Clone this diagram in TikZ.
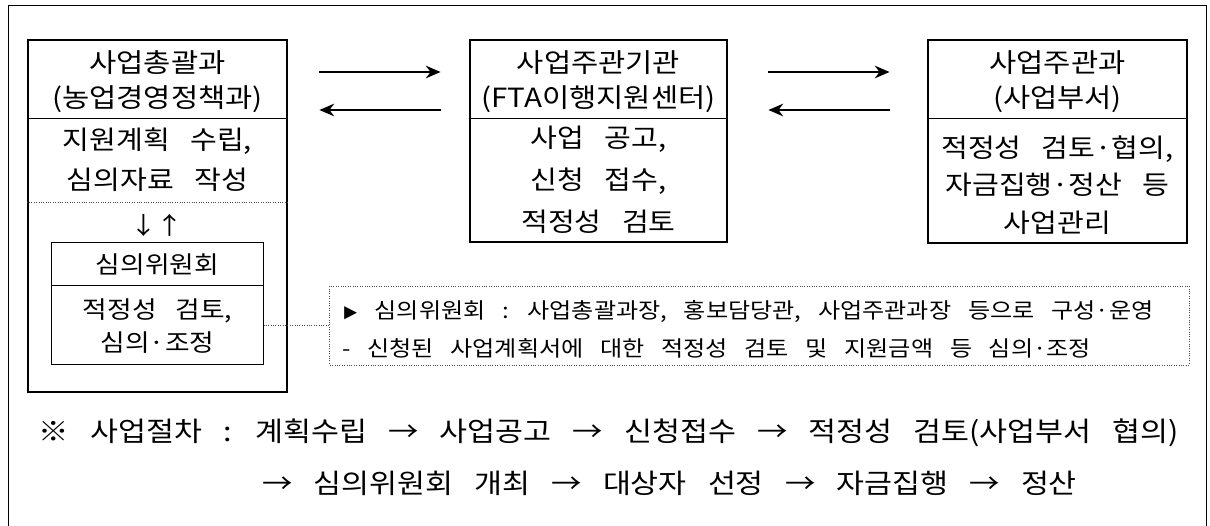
\documentclass[tikz,border=0pt]{standalone}
\usepackage{fontspec}
\setmainfont{Noto Sans CJK KR}[WordSpace=3.1, FakeStretch=1.12]
\usepackage{tikz}
\usetikzlibrary{arrows.meta, positioning}

\begin{document}
\begin{tikzpicture}[
        x=0.025cm, y=-0.025cm, % pixel grid, y runs downwards
        every node/.style={inner sep=0pt, align=center},
        unit/.style={draw, line width=2pt},
        panel/.style={draw, line width=0.7pt},
        big/.style={font=\fontsize{18.8}{25}\selectfont},
        body/.style={font=\fontsize{18.5}{28.5}\selectfont},
        small/.style={font=\fontsize{17}{23.5}\selectfont},
        note/.style={font=\fontsize{15.3}{27}\selectfont, align=left},
        steps/.style={font=\fontsize{19.3}{35.5}\selectfont},
        flow/.style={-{Stealth[length=10.5pt, width=9pt]}, line width=1.4pt},
        sep/.style={line width=0.7pt},
        dotline/.style={densely dotted, line width=0.7pt, black!70}
    ]
        \useasboundingbox (0,0) rectangle (1210,526);

        % Define coordinates
        \coordinate (cut) at (0,118); \coordinate (dots) at (0,202);
        \coordinate (go) at (0,72); \coordinate (back) at (0,110);

        % Outer frame
        \draw[sep] (8,526) |- (1206,5) -- (1206,526);

        % Boxes
        \node[unit, minimum width=6.475cm, minimum height=8.8cm] (lead) at (157.5,216) {};
        \node[unit, minimum width=6.425cm, minimum height=5.05cm] (host) at (598.5,141) {};
        \node[unit, minimum width=6.475cm, minimum height=5.075cm] (dept) at (1057.5,141.5) {};

        \draw[sep] (lead.west |- cut) -- (lead.east |- cut);
        \draw[sep] (host.west |- cut) -- (host.east |- cut);
        \draw[sep] (dept.west |- cut) -- (dept.east |- cut);

        % Box texts
        \node[big] (leadname) at (157.5,82) {사업총괄과\\(농업경영정책과)};
        \node[body] (leadtask) at (157.5,160) {지원계획 수립,\\심의자료 작성};
        \node[big] (hostname) at (598.5,82) {사업주관기관\\(FTA이행지원센터)};
        \node[body, font=\fontsize{18.5}{30}\selectfont] (hosttask) at (598.5,180) {사업 공고,\\신청 접수,\\적정성 검토};
        \node[big] (deptname) at (1057.5,82) {사업주관과\\(사업부서)};
        \node[body, font=\fontsize{18.5}{26.5}\selectfont] (depttask) at (1057.5,185) {적정성 검토·협의,\\자금집행·정산 등\\사업관리};

        % Committee inside the lead box
        \draw[dotline] (lead.west |- dots) -- (lead.east |- dots);
        \node[small] (down) at (144,225) {↓};
        \node[small] (up) at (170,225) {↑};
        \node[panel, minimum width=5.275cm, minimum height=3.025cm] (board) at (157.5,303.5) {};
        \draw[sep] (board.west |- 0,285) -- (board.east |- 0,285);
        \node[small] (boardname) at (157.5,265) {심의위원회};
        \node[small] (boardtask) at (157.5,326) {적정성 검토,\\심의·조정};

        % Arrows between boxes
        \draw[flow, shorten <=0.775cm, shorten >=0.7cm] (lead.east |- go) -- (host.west |- go);
        \draw[flow, shorten <=0.7cm, shorten >=0.775cm] (host.west |- back) -- (lead.east |- back);
        \draw[flow, shorten <=1cm, shorten >=0.925cm] (host.east |- go) -- (dept.west |- go);
        \draw[flow, shorten <=0.925cm, shorten >=1cm] (dept.west |- back) -- (host.east |- back);

        % Committee note
        \node[draw, dotline, minimum width=21.475cm, minimum height=1.975cm] (notebox) at (759.5,325.5) {};
        \node[note, anchor=west] (notetext) at (342,329) {{\fontsize{10}{10}\selectfont ▶} 심의위원회 : 사업총괄과장, 홍보담당관, 사업주관과장 등으로 구성·운영\\- 신청된 사업계획서에 대한 적정성 검토 및 지원금액 등 심의·조정};
        \draw[dotline] (board.east |- notebox.west) -- (notebox.west);

        % Procedure
        \node[steps] (steps1) at (609,433) {※ 사업절차 : 계획수립 → 사업공고 → 신청접수 → 적정성 검토(사업부서 협의)};
        \node[steps] (steps2) at (669.5,483) {→ 심의위원회 개최 → 대상자 선정 → 자금집행 → 정산};

    \end{tikzpicture}
\end{document}
